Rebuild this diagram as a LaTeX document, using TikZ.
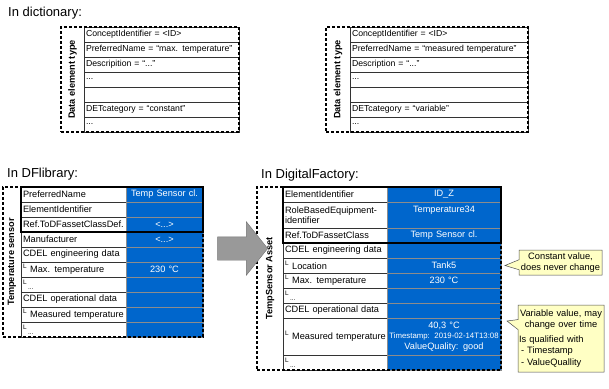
\documentclass[tikz,border=0pt]{standalone}
\usepackage{fontspec}
\setmainfont{Liberation Sans}
\usetikzlibrary{positioning, fit, calc, shapes.arrows, shapes.callouts}

\definecolor{cellblue}{RGB}{0,102,204}
\definecolor{notefill}{RGB}{255,255,196}
\newcommand{\cellfont}{\fontsize{9.2}{10.5}\selectfont}
\newcommand{\branch}{\textsuperscript{L}~}
\newcommand{\branchdots}{\textsuperscript{L}\textsubscript{\,...}}

\begin{document}
\begin{tikzpicture}[
    x=1pt, y=-1pt,
    title/.style={font=\fontsize{13}{15}\selectfont, anchor=west, inner sep=0pt},
    dictrow/.style={draw=black!80, line width=0.6pt, fill=white, text width=#1, align=left, minimum height=15pt, inner xsep=2pt, inner ysep=0pt, outer sep=0pt, font=\fontsize{8.7}{10}\selectfont},
    namecell/.style={draw=black!80, line width=0.6pt, fill=white, text width=#1, align=left, minimum height=15pt, inner xsep=2pt, inner ysep=0pt, outer sep=0pt, font=\cellfont},
    valcell/.style={draw=black!45, line width=0.6pt, fill=cellblue, text=white, text width=#1, align=center, minimum height=15pt, inner xsep=2pt, inner ysep=0pt, outer sep=0pt, font=\cellfont},
    sidelabel/.style={rotate=90, font=\bfseries\cellfont, inner sep=0pt, outer sep=0pt, anchor=south},
    dashbox/.style={draw, line width=1.1pt, dash pattern=on 3pt off 2pt, inner sep=0pt},
    headbox/.style={draw, line width=1.4pt, inner sep=0pt},
    bigarrow/.style={single arrow, draw=black!55, fill=black!40, minimum height=50pt, inner xsep=0pt, inner ysep=11.5pt, single arrow head extend=15pt, single arrow tip angle=103},
    note/.style={rectangle callout, draw=black!70, line width=0.5pt, fill=notefill, font=\fontsize{9.3}{11.5}\selectfont, inner xsep=1pt, inner ysep=2pt, callout pointer width=10pt}
]
\useasboundingbox (0,0) rectangle (609,388);

% dictionary
\node [title] (dicttitle) at (8,13) {In dictionary:};

\node [dictrow=151pt, anchor=north west] (d1r1) at (84,27) {ConceptIdentifier = <ID>};
\node [dictrow=151pt, below=0pt of d1r1] (d1r2) {PreferredName = “max. temperature”};
\node [dictrow=151pt, below=0pt of d1r2] (d1r3) {Descripition = “...”};
\node [dictrow=151pt, below=0pt of d1r3] (d1r4) {...};
\node [dictrow=151pt, below=0pt of d1r4] (d1r5) {};
\node [dictrow=151pt, below=0pt of d1r5] (d1r6) {DETcategory = “constant”};
\node [dictrow=151pt, below=0pt of d1r6] (d1r7) {...};
\node [sidelabel, minimum width=105pt, minimum height=23pt] (d1lab) at ($(d1r1.north west)!0.5!(d1r7.south west)$) {Data element type};
\node [dashbox, fit=(d1lab)(d1r1)(d1r7)] (d1box) {};

\node [dictrow=174pt, anchor=north west] (d2r1) at (350,27) {ConceptIdentifier = <ID>};
\node [dictrow=174pt, below=0pt of d2r1] (d2r2) {PreferredName = “measured temperature”};
\node [dictrow=174pt, below=0pt of d2r2] (d2r3) {Description = “...”};
\node [dictrow=174pt, below=0pt of d2r3] (d2r4) {...};
\node [dictrow=174pt, below=0pt of d2r4] (d2r5) {};
\node [dictrow=174pt, below=0pt of d2r5] (d2r6) {DETcategory = “variable”};
\node [dictrow=174pt, below=0pt of d2r6] (d2r7) {...};
\node [sidelabel, minimum width=105pt, minimum height=24pt] (d2lab) at ($(d2r1.north west)!0.5!(d2r7.south west)$) {Data element type};
\node [dashbox, fit=(d2lab)(d2r1)(d2r7)] (d2box) {};

% DFlibrary
\node [title] (libtitle) at (7,174) {In DFlibrary:};

\node [namecell=101pt, anchor=north west] (lbn1) at (21,187) {PreferredName};
\node [namecell=101pt, below=0pt of lbn1] (lbn2) {ElementIdentifier};
\node [namecell=101pt, below=0pt of lbn2] (lbn3) {Ref.ToDFassetClassDef.};
\node [namecell=101pt, below=0pt of lbn3] (lbn4) {Manufacturer};
\node [namecell=101pt, below=0pt of lbn4] (lbn5) {CDEL engineering data};
\node [namecell=101pt, below=0pt of lbn5] (lbn6) {\branch Max. temperature};
\node [namecell=101pt, below=0pt of lbn6] (lbn7) {\branchdots};
\node [namecell=101pt, below=0pt of lbn7] (lbn8) {CDEL operational data};
\node [namecell=101pt, below=0pt of lbn8] (lbn9) {\mbox{\branch Measured temperature}};
\node [namecell=101pt, below=0pt of lbn9] (lbn10) {\branchdots};

\node [valcell=73pt, right=0pt of lbn1] (lbv1) {Temp Sensor cl.};
\node [valcell=73pt, right=0pt of lbn2] (lbv2) {};
\node [valcell=73pt, right=0pt of lbn3] (lbv3) {<...>};
\node [valcell=73pt, right=0pt of lbn4] (lbv4) {<...>};
\node [valcell=73pt, right=0pt of lbn5] (lbv5) {};
\node [valcell=73pt, right=0pt of lbn6] (lbv6) {230 °C};
\node [valcell=73pt, right=0pt of lbn7] (lbv7) {};
\node [valcell=73pt, right=0pt of lbn8] (lbv8) {};
\node [valcell=73pt, right=0pt of lbn9] (lbv9) {};
\node [valcell=73pt, right=0pt of lbn10] (lbv10) {};

\node [headbox, fit=(lbn1)(lbv3)] (lbhead) {};
\node [sidelabel, minimum width=150pt, minimum height=18pt] (lblab) at ($(lbn1.north west)!0.5!(lbn10.south west)$) {Temperature sensor};
\node [dashbox, fit=(lblab)(lbn1)(lbv10)] (lbbox) {};

% DigitalFactory
\node [title] (factitle) at (261,175) {In DigitalFactory:};

\node [namecell=100pt, anchor=north west] (fan1) at (283,187) {ElementIdentifier};
\node [namecell=100pt, minimum height=26pt, below=0pt of fan1] (fan2) {RoleBasedEquipment-\\identifier};
\node [namecell=100pt, below=0pt of fan2] (fan3) {Ref.ToDFassetClass};
\node [namecell=100pt, below=0pt of fan3] (fan4) {CDEL engineering data};
\node [namecell=100pt, below=0pt of fan4] (fan5) {\branch Location};
\node [namecell=100pt, below=0pt of fan5] (fan6) {\branch Max. temperature};
\node [namecell=100pt, below=0pt of fan6] (fan7) {\branchdots};
\node [namecell=100pt, below=0pt of fan7] (fan8) {CDEL operational data};
\node [namecell=100pt, minimum height=37pt, below=0pt of fan8] (fan9) {\mbox{\branch Measured temperature}};
\node [namecell=100pt, below=0pt of fan9] (fan10) {\branchdots};

\node [valcell=110pt, right=0pt of fan1] (fav1) {ID\_Z};
\node [valcell=110pt, minimum height=26pt, right=0pt of fan2] (fav2) {Temperature34\\\mbox{}};
\node [valcell=110pt, right=0pt of fan3] (fav3) {Temp Sensor cl.};
\node [valcell=110pt, right=0pt of fan4] (fav4) {};
\node [valcell=110pt, right=0pt of fan5] (fav5) {Tank5};
\node [valcell=110pt, right=0pt of fan6] (fav6) {230 °C};
\node [valcell=110pt, right=0pt of fan7] (fav7) {};
\node [valcell=110pt, right=0pt of fan8] (fav8) {};
\node [valcell=110pt, minimum height=37pt, right=0pt of fan9] (fav9) {40,3 °C\\{\fontsize{7.8}{9}\selectfont Timestamp: 2019-02-14T13:08}\\ValueQuality: good};
\node [valcell=110pt, right=0pt of fan10] (fav10) {};

\node [headbox, fit=(fan1)(fav3)] (fahead) {};
\node [sidelabel, minimum width=183pt, minimum height=26pt] (falab) at ($(fan1.north west)!0.5!(fan10.south west)$) {TempSensor Asset};
\node [dashbox, fit=(falab)(fan1)(fav10)] (fabox) {};

% transfer arrow
\node [bigarrow] (transfer) at (238,248.5) {};

% notes
\node [note, minimum width=83pt, minimum height=25pt, align=center, callout absolute pointer={($(fav5.east)+(4,0)$)}] (constnote) at (560.5,262.5) {Constant value,\\does never change};
\node [note, text width=84pt, minimum height=67pt, align=left, callout absolute pointer={($(fav9.north east)+(6,3)$)}] (varnote) at (561,338.5) {{\centering Variable value, may\\change over time\par}\vspace{3pt}Is qualified with\\\hspace*{2pt}- Timestamp\\\hspace*{2pt}- ValueQuallity};
\end{tikzpicture}
\end{document}
